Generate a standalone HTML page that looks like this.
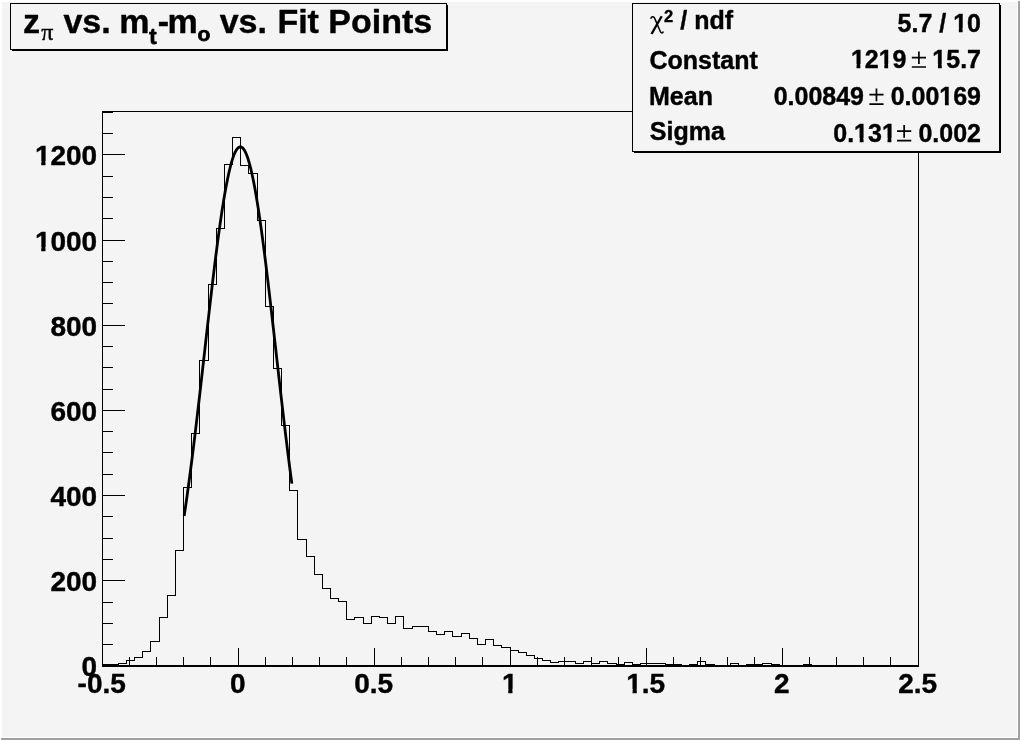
<!DOCTYPE html>
<html><head><meta charset="utf-8"><title>plot</title>
<style>
html,body{margin:0;padding:0;background:#f4f4f4;}
body{width:1020px;height:740px;overflow:hidden;position:relative;font-family:"Liberation Sans",sans-serif;}
svg{position:absolute;left:0;top:0;display:block;filter:grayscale(1);}
text{font-family:"Liberation Sans",sans-serif;font-weight:bold;fill:#000;stroke:#000;stroke-width:0.4px;stroke-linejoin:round;}
.sym{font-family:"Liberation Serif",serif;font-weight:normal;}
.sub{stroke-width:0.75px;}
</style></head><body>
<svg width="1020" height="740" viewBox="0 0 1020 740">
<rect x="0" y="0" width="1020" height="740" fill="#f4f4f4"/>
<!-- canvas bevel -->
<rect x="0" y="0" width="1020" height="2" fill="#ffffff"/>
<rect x="0" y="0" width="2" height="740" fill="#ffffff"/>
<rect x="2" y="737" width="1016" height="1" fill="#ffffff"/>
<rect x="1017" y="2" width="1" height="736" fill="#ffffff"/>
<rect x="1" y="738" width="1019" height="2" fill="#a1a1a1"/>
<rect x="1018" y="1" width="2" height="739" fill="#a1a1a1"/>
<!-- frame -->
<g shape-rendering="crispEdges" fill="none" stroke="#000" stroke-width="1">
<rect x="102.5" y="111.5" width="816" height="554"/>
<rect x="102" y="665" width="817" height="2" fill="#000" stroke="none"/>
<path d="M102.5,665.0 V648.0 M129.5,665.0 V657.0 M156.5,665.0 V657.0 M183.5,665.0 V657.0 M210.5,665.0 V657.0 M238.5,665.0 V648.0 M265.5,665.0 V657.0 M292.5,665.0 V657.0 M319.5,665.0 V657.0 M346.5,665.0 V657.0 M374.5,665.0 V648.0 M401.5,665.0 V657.0 M428.5,665.0 V657.0 M455.5,665.0 V657.0 M482.5,665.0 V657.0 M510.5,665.0 V648.0 M537.5,665.0 V657.0 M564.5,665.0 V657.0 M591.5,665.0 V657.0 M618.5,665.0 V657.0 M646.5,665.0 V648.0 M673.5,665.0 V657.0 M700.5,665.0 V657.0 M727.5,665.0 V657.0 M754.5,665.0 V657.0 M782.5,665.0 V648.0 M809.5,665.0 V657.0 M836.5,665.0 V657.0 M863.5,665.0 V657.0 M890.5,665.0 V657.0 M918.5,665.0 V648.0 M102.0,665.5 H125.0 M102.0,644.5 H113.0 M102.0,623.5 H113.0 M102.0,602.5 H113.0 M102.0,580.5 H125.0 M102.0,559.5 H113.0 M102.0,538.5 H113.0 M102.0,516.5 H113.0 M102.0,495.5 H125.0 M102.0,474.5 H113.0 M102.0,452.5 H113.0 M102.0,431.5 H113.0 M102.0,410.5 H125.0 M102.0,389.5 H113.0 M102.0,367.5 H113.0 M102.0,346.5 H113.0 M102.0,325.5 H125.0 M102.0,303.5 H113.0 M102.0,282.5 H113.0 M102.0,261.5 H113.0 M102.0,240.5 H125.0 M102.0,218.5 H113.0 M102.0,197.5 H113.0 M102.0,176.5 H113.0 M102.0,154.5 H125.0 M102.0,133.5 H113.0 M102.0,112.5 H113.0"/>
<path d="M102.5,665.5 L102.5,664.5 L110.5,664.5 L110.5,664.5 L118.5,664.5 L118.5,663.5 L126.5,663.5 L126.5,660.5 L134.5,660.5 L134.5,657.5 L142.5,657.5 L142.5,651.5 L150.5,651.5 L150.5,641.5 L159.5,641.5 L159.5,617.5 L167.5,617.5 L167.5,595.5 L175.5,595.5 L175.5,550.5 L183.5,550.5 L183.5,487.5 L191.5,487.5 L191.5,433.5 L199.5,433.5 L199.5,360.5 L208.5,360.5 L208.5,284.5 L216.5,284.5 L216.5,228.5 L224.5,228.5 L224.5,164.5 L232.5,164.5 L232.5,137.5 L240.5,137.5 L240.5,165.5 L248.5,165.5 L248.5,173.5 L257.5,173.5 L257.5,220.5 L265.5,220.5 L265.5,306.5 L273.5,306.5 L273.5,368.5 L281.5,368.5 L281.5,425.5 L289.5,425.5 L289.5,490.5 L297.5,490.5 L297.5,539.5 L306.5,539.5 L306.5,556.5 L314.5,556.5 L314.5,574.5 L322.5,574.5 L322.5,588.5 L330.5,588.5 L330.5,598.5 L338.5,598.5 L338.5,601.5 L346.5,601.5 L346.5,619.5 L354.5,619.5 L354.5,617.5 L363.5,617.5 L363.5,623.5 L371.5,623.5 L371.5,616.5 L379.5,616.5 L379.5,617.5 L387.5,617.5 L387.5,623.5 L395.5,623.5 L395.5,616.5 L403.5,616.5 L403.5,628.5 L412.5,628.5 L412.5,626.5 L420.5,626.5 L420.5,626.5 L428.5,626.5 L428.5,631.5 L436.5,631.5 L436.5,634.5 L444.5,634.5 L444.5,631.5 L452.5,631.5 L452.5,636.5 L461.5,636.5 L461.5,633.5 L469.5,633.5 L469.5,638.5 L477.5,638.5 L477.5,644.5 L485.5,644.5 L485.5,639.5 L493.5,639.5 L493.5,645.5 L501.5,645.5 L501.5,647.5 L510.5,647.5 L510.5,650.5 L518.5,650.5 L518.5,652.5 L526.5,652.5 L526.5,655.5 L534.5,655.5 L534.5,658.5 L542.5,658.5 L542.5,660.5 L550.5,660.5 L550.5,662.5 L558.5,662.5 L558.5,661.5 L567.5,661.5 L567.5,661.5 L575.5,661.5 L575.5,663.5 L583.5,663.5 L583.5,661.5 L591.5,661.5 L591.5,663.5 L599.5,663.5 L599.5,661.5 L607.5,661.5 L607.5,663.5 L616.5,663.5 L616.5,664.5 L624.5,664.5 L624.5,662.5 L632.5,662.5 L632.5,664.5 L640.5,664.5 L640.5,663.5 L648.5,663.5 L648.5,663.5 L656.5,663.5 L656.5,663.5 L665.5,663.5 L665.5,664.5 L673.5,664.5 L673.5,664.5 L681.5,664.5 L681.5,665.5 L689.5,665.5 L689.5,664.5 L697.5,664.5 L697.5,661.5 L705.5,661.5 L705.5,664.5 L714.5,664.5 L714.5,665.5 L722.5,665.5 L722.5,665.5 L730.5,665.5 L730.5,663.5 L738.5,663.5 L738.5,665.5 L746.5,665.5 L746.5,664.5 L754.5,664.5 L754.5,664.5 L762.5,664.5 L762.5,663.5 L771.5,663.5 L771.5,664.5 L779.5,664.5 L779.5,665.5 L787.5,665.5 L787.5,665.5 L795.5,665.5 L795.5,665.5 L803.5,665.5 L803.5,664.5 L811.5,664.5 L811.5,665.5 L820.5,665.5 L820.5,665.5 L828.5,665.5 L828.5,665.5 L836.5,665.5 L836.5,665.5 L844.5,665.5 L844.5,665.5 L852.5,665.5 L852.5,665.5 L860.5,665.5 L860.5,665.5 L869.5,665.5 L869.5,665.5 L877.5,665.5 L877.5,665.5 L885.5,665.5 L885.5,665.5 L893.5,665.5 L893.5,665.5 L901.5,665.5 L901.5,665.5 L909.5,665.5 L909.5,665.5 L918.5,665.5 L918.5,665.5"/>
</g>
<path d="M184.14,516.02 L185.23,508.71 L186.32,501.19 L187.41,493.47 L188.50,485.55 L189.58,477.45 L190.67,469.17 L191.76,460.72 L192.85,452.10 L193.94,443.33 L195.02,434.42 L196.11,425.37 L197.20,416.20 L198.29,406.93 L199.38,397.56 L200.46,388.11 L201.55,378.59 L202.64,369.03 L203.73,359.43 L204.82,349.82 L205.90,340.21 L206.99,330.62 L208.08,321.07 L209.17,311.58 L210.26,302.16 L211.34,292.85 L212.43,283.65 L213.52,274.59 L214.61,265.69 L215.70,256.97 L216.78,248.45 L217.87,240.15 L218.96,232.08 L220.05,224.28 L221.14,216.75 L222.22,209.53 L223.31,202.61 L224.40,196.04 L225.49,189.81 L226.58,183.95 L227.66,178.47 L228.75,173.39 L229.84,168.72 L230.93,164.47 L232.02,160.66 L233.10,157.29 L234.19,154.38 L235.28,151.93 L236.37,149.95 L237.46,148.45 L238.54,147.43 L239.63,146.88 L240.72,146.82 L241.81,147.25 L242.90,148.15 L243.98,149.54 L245.07,151.41 L246.16,153.74 L247.25,156.54 L248.34,159.79 L249.42,163.50 L250.51,167.64 L251.60,172.21 L252.69,177.19 L253.78,182.57 L254.86,188.34 L255.95,194.48 L257.04,200.97 L258.13,207.80 L259.22,214.96 L260.30,222.41 L261.39,230.15 L262.48,238.15 L263.57,246.39 L264.66,254.86 L265.74,263.54 L266.83,272.40 L267.92,281.42 L269.01,290.58 L270.10,299.87 L271.18,309.26 L272.27,318.74 L273.36,328.27 L274.45,337.86 L275.54,347.46 L276.62,357.08 L277.71,366.68 L278.80,376.25 L279.89,385.78 L280.98,395.25 L282.06,404.64 L283.15,413.94 L284.24,423.13 L285.33,432.21 L286.42,441.16 L287.50,449.97 L288.59,458.62 L289.68,467.12 L290.77,475.44 L291.86,483.59" fill="none" stroke="#000" stroke-width="2.8" stroke-linejoin="round" stroke-linecap="butt"/>
<g font-size="28">
<text x="101.7" y="692.6" text-anchor="middle">-0.5</text>
<text x="237.7" y="692.6" text-anchor="middle">0</text>
<text x="373.7" y="692.6" text-anchor="middle">0.5</text>
<text x="509.7" y="692.6" text-anchor="middle">1</text>
<text x="645.7" y="692.6" text-anchor="middle">1.5</text>
<text x="781.7" y="692.6" text-anchor="middle">2</text>
<text x="917.7" y="692.6" text-anchor="middle">2.5</text>
<text x="97.2" y="675.8" text-anchor="end">0</text>
<text x="97.2" y="590.8" text-anchor="end">200</text>
<text x="97.2" y="505.8" text-anchor="end">400</text>
<text x="97.2" y="420.8" text-anchor="end">600</text>
<text x="97.2" y="335.8" text-anchor="end">800</text>
<text x="97.2" y="250.8" text-anchor="end">1000</text>
<text x="97.2" y="164.8" text-anchor="end">1200</text>
</g>
<!-- title box -->
<g shape-rendering="crispEdges">
<rect x="12" y="5" width="436" height="46" fill="#000"/>
<rect x="10.5" y="3.5" width="436" height="46" fill="#f4f4f4" stroke="#000" stroke-width="1"/>
</g>
<g font-size="34">
<text x="22.9" y="32.8">z</text>
<text x="41.3" y="39.6" class="sym" font-size="24" stroke="#000" stroke-width="0.7">π</text>
<text x="63.4" y="32.8">vs.</text>
<text x="119.3" y="32.8">m</text>
<text x="149.3" y="43.5" font-size="22" class="sub">t</text>
<text x="157.7" y="32.8">-</text>
<text x="167.6" y="32.8">m</text>
<text x="197.6" y="40.7" font-size="21" class="sub">o</text>
<text x="219.7" y="32.8">vs.</text>
<text x="277.4" y="32.8">Fit Points</text>
</g>
<!-- stats box -->
<g shape-rendering="crispEdges">
<rect x="634" y="5" width="367" height="148" fill="#000"/>
<rect x="632.5" y="3.5" width="367" height="148" fill="#f4f4f4" stroke="#000" stroke-width="1"/>
</g>
<g font-size="25">
<path d="M661.7,16.2 L651.5,34.0" stroke="#000" stroke-width="2.3" fill="none"/><path d="M650.8,18.8 C651.2,16.5 653.7,15.9 654.7,18.4 L660.2,31.2 C661,33.3 662.7,33.5 663.3,31.6" stroke="#000" stroke-width="1.5" fill="none"/>
<text x="663.9" y="21.8" font-size="16.5">2</text>
<text x="680.3" y="28.8">/ ndf</text>
<text x="649.5" y="68.6">Constant</text>
<text x="649" y="104.6">Mean</text>
<text x="649.8" y="139.5">Sigma</text>
<text x="981" y="31.8" text-anchor="end">5.7 / 10</text>
<text x="906.5" y="68" text-anchor="end">1219</text>
<path d="M911.80,57.60 H926.00 M911.80,67.00 H926.00 M918.90,51.40 V64.10" stroke="#000" stroke-width="1.7" fill="none"/>
<text x="981" y="68" text-anchor="end">15.7</text>
<text x="864" y="105.1" text-anchor="end">0.00849</text>
<path d="M869.35,94.70 H883.55 M869.35,104.10 H883.55 M876.45,88.50 V101.20" stroke="#000" stroke-width="1.7" fill="none"/>
<text x="981" y="105.1" text-anchor="end">0.00169</text>
<text x="895.8" y="141.6" text-anchor="end">0.131</text>
<path d="M897.05,131.20 H911.25 M897.05,140.60 H911.25 M904.15,125.00 V137.70" stroke="#000" stroke-width="1.7" fill="none"/>
<text x="981" y="141.6" text-anchor="end">0.002</text>
</g>
<g id="feet" fill="#f4f4f4"><rect x="503.00" y="689" width="5.25" height="5"/><rect x="512.49" y="689" width="4.51" height="5"/><rect x="627.00" y="689" width="5.57" height="5"/><rect x="636.81" y="689" width="5.19" height="5"/><rect x="36.00" y="247" width="5.24" height="5"/><rect x="45.48" y="247" width="4.52" height="5"/><rect x="36.00" y="161" width="5.24" height="5"/><rect x="45.48" y="161" width="4.52" height="5"/><rect x="954.00" y="28" width="4.81" height="5"/><rect x="962.64" y="28" width="4.36" height="5"/><rect x="852.00" y="64" width="4.51" height="5"/><rect x="860.34" y="64" width="4.66" height="5"/><rect x="880.00" y="64" width="4.31" height="5"/><rect x="888.14" y="64" width="4.86" height="5"/><rect x="933.00" y="64" width="4.96" height="5"/><rect x="941.79" y="64" width="4.21" height="5"/><rect x="940.00" y="101" width="4.92" height="5"/><rect x="948.75" y="101" width="4.25" height="5"/><rect x="855.00" y="138" width="4.72" height="5"/><rect x="863.55" y="138" width="4.45" height="5"/><rect x="883.00" y="138" width="4.53" height="5"/><rect x="891.36" y="138" width="4.64" height="5"/></g>
</svg>
</body></html>
